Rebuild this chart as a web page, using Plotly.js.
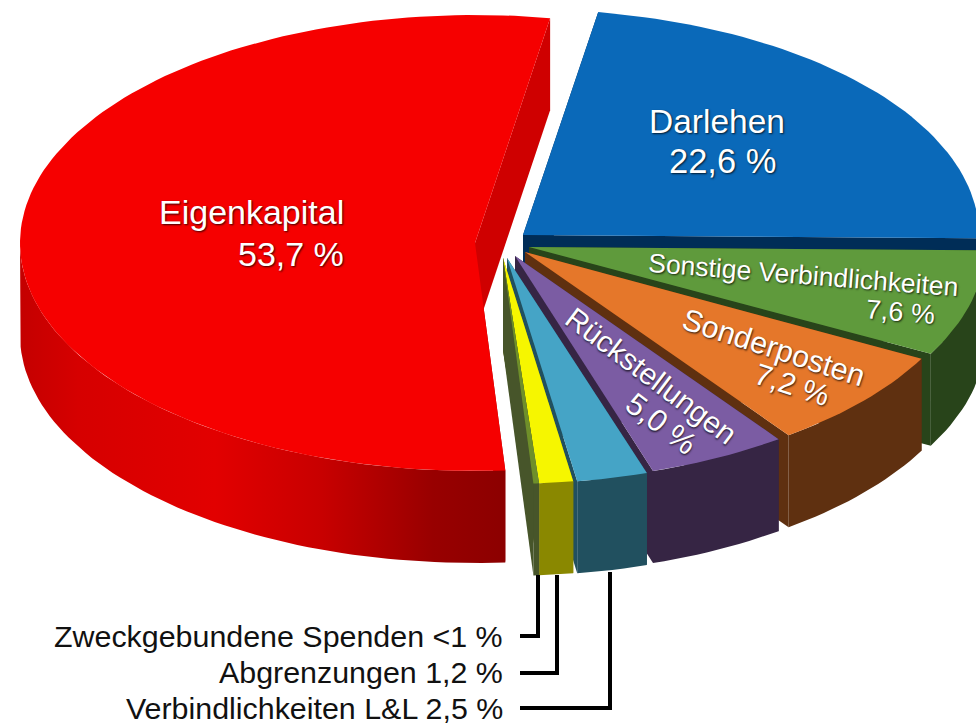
<!DOCTYPE html>
<html><head><meta charset="utf-8">
<script src="https://cdn.plot.ly/plotly-3.0.1.min.js"></script>
<style>html,body{margin:0;padding:0;background:#fff}#g{width:976px;height:726px}</style>
</head><body><div id="g"></div>
<script>
// Data, clockwise from the top
const categories = ['Darlehen','Sonstige Verbindlichkeiten','Sonderposten','Rückstellungen','Verbindlichkeiten L&L','Abgrenzungen','Zweckgebundene Spenden','Eigenkapital'];
const shares = [22.6,7.6,7.2,5.0,2.5,1.2,0.2,53.7];
// Style / geometry, separate from data
const topColors  = ['#0a69b9','#5f9a3c','#e5772a','#7b5ca3','#45a4c6','#f6f600','#6f8f2a','#f60000'];
const wallColors = ['#002d57','#28441a','#5f3010','#362544','#21505f','#8a8800','#47552a','#a00000'];
const apexX = [523,529,525,515,507,503,503,475];
const apexY = [235,247,252,256,258,258,258,243];
const radiiX = [456,456,450,450,456,456,456,455];
const radiiY = [226,226,226,226,226,226,226,228];
const depth = 92, startDeg = 9.5;
const drawOrder = [0,7,1,2,3,4,5,6];

const rad = d => d*Math.PI/180;
let cum = startDeg; const a0 = [], a1 = [];
shares.forEach(s => { a0.push(cum); cum += s*3.6; a1.push(cum); });

function arc(i, from, to, dy){
  const xs=[], ys=[], n=Math.max(2,Math.ceil((to-from)/1.5));
  for(let k=0;k<=n;k++){
    const t=rad(from+(to-from)*k/n);
    xs.push(apexX[i]+radiiX[i]*Math.sin(t));
    ys.push(apexY[i]-radiiY[i]*Math.cos(t)+dy);
  }
  return {xs,ys};
}
function poly(name,xs,ys,color,extra){
  return Object.assign({type:'scatter',mode:'lines',name,x:xs.concat(xs[0]),y:ys.concat(ys[0]),
    fill:'toself',fillcolor:color,line:{width:0,color:color},hoverinfo:'name',showlegend:false},extra||{});
}
const redGradient = {type:'horizontal',start:20,stop:506,colorscale:[[0,'#c40000'],[0.12,'#d60000'],[0.4,'#e20000'],[0.62,'#c80000'],[0.85,'#980000'],[1,'#8c0000']]};
const traces=[];
drawOrder.forEach(i=>{
  const name=categories[i], wc=wallColors[i];
  const p0=arc(i,a0[i],a0[i],0), p1=arc(i,a1[i],a1[i],0);
  const ax=apexX[i], ay=apexY[i];
  // cut faces
  traces.push(poly(name,[ax,p0.xs[0],p0.xs[0],ax],[ay,p0.ys[0],p0.ys[0]+depth,ay+depth],wc));
  traces.push(poly(name,[ax,p1.xs[0],p1.xs[0],ax],[ay,p1.ys[0],p1.ys[0]+depth,ay+depth],i===7?'#cf0000':wc));
  // outer wall: only the front half of the rim is visible
  const from=Math.max(a0[i],90), to=Math.min(a1[i],270);
  if(to>from){
    const up=arc(i,from,to,0), lo=arc(i,from,to,depth);
    traces.push(poly(name,up.xs.concat(lo.xs.slice().reverse()),up.ys.concat(lo.ys.slice().reverse()),wc,
      i===7?{fillgradient:redGradient}:{}));
  }
  // top face
  const top=arc(i,a0[i],a1[i],0);
  traces.push(poly(name,[ax].concat(top.xs),[ay].concat(top.ys),topColors[i]));
});

const FONT='Liberation Sans, Helvetica, Arial, sans-serif';
const SH='1px 1px 2px rgba(0,0,0,0.75)';
function label(text,x,y,size,angle,anchor,color,shadow){
  return {text,x,y,xref:'x',yref:'y',showarrow:false,textangle:angle||0,xanchor:anchor||'center',yanchor:'middle',
    font:{family:FONT,size,color:color||'#fff',shadow:shadow===false?'none':SH}};
}
const annotations=[
  label('Darlehen',717,121,33.5),
  label('22,6 %',722,161,34.5),
  label('Eigenkapital',346,212,34,0,'right'),
  label('53,7 %',346,254,34,0,'right'),
  label('Sonstige Verbindlichkeiten',803,275,26.5,4.5),
  label('7,6 %',900,312,27,5),
  label('Sonderposten',774,347,30.5,18),
  label('7,2 %',792,384,30,18),
  label('Rückstellungen',651,375,30,37),
  label('5,0 %',661,423,31,37),
  label('Zweckgebundene Spenden <1 %',505,636,30.4,0,'right','#111',false),
  label('Abgrenzungen 1,2 %',505,672,30.4,0,'right','#111',false),
  label('Verbindlichkeiten L&L 2,5 %',505,708,30.4,0,'right','#111',false)
];
const lineStyle={color:'#000',width:4};
const leader=(d)=>({type:'path',path:d,xref:'x',yref:'y',line:lineStyle,layer:'above'});
const shapes=[
  leader('M520,636 L538,636 L538,575'),
  leader('M520,673 L557,673 L557,575'),
  leader('M520,708 L610,708 L610,572')
];
const layout={width:976,height:726,margin:{l:0,r:0,t:0,b:0},paper_bgcolor:'#fff',plot_bgcolor:'#fff',showlegend:false,
  xaxis:{range:[0,976],visible:false,fixedrange:true},
  yaxis:{range:[726,0],visible:false,fixedrange:true},
  annotations,shapes};
Plotly.newPlot('g',traces,layout,{displayModeBar:false,staticPlot:true});
</script></body></html>
